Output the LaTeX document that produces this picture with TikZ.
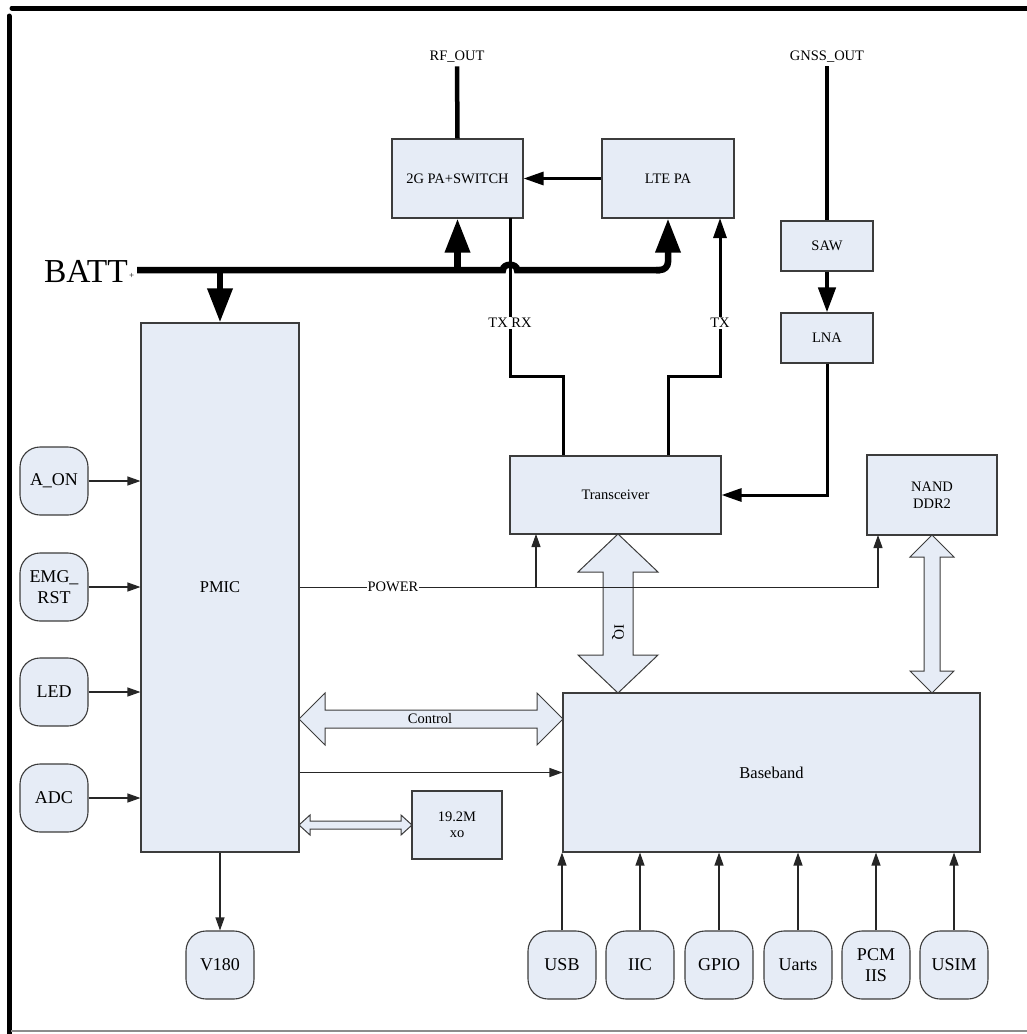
\documentclass[tikz,border=0pt]{standalone}
\usepackage{fontspec}
\setmainfont{Liberation Serif}
\usetikzlibrary{arrows.meta,calc}
\definecolor{boxfill}{RGB}{230,236,246}
\definecolor{boxline}{RGB}{60,60,60}
\newcommand\myHArrow[6]{% x1 x2 y headlen headhalf shafthalf
  \draw[blockarr] (#1,#3) -- (#1+#4,#3-#5) -- (#1+#4,#3-#6) -- (#2-#4,#3-#6) -- (#2-#4,#3-#5) -- (#2,#3)
    -- (#2-#4,#3+#5) -- (#2-#4,#3+#6) -- (#1+#4,#3+#6) -- (#1+#4,#3+#5) -- cycle;}
\newcommand\myVArrow[6]{% x y1 y2 headlen headhalf shafthalf
  \draw[blockarr] (#1,#2) -- (#1+#5,#2+#4) -- (#1+#6,#2+#4) -- (#1+#6,#3-#4) -- (#1+#5,#3-#4) -- (#1,#3)
    -- (#1-#5,#3-#4) -- (#1-#6,#3-#4) -- (#1-#6,#2+#4) -- (#1-#5,#2+#4) -- cycle;}
\begin{document}
\begin{tikzpicture}[x=1pt,y=-1pt,
  every node/.style={font=\fontsize{14.5}{16.5}\selectfont},
  blk/.style={draw=boxline, line width=1.1pt, fill=boxfill, inner sep=0pt, align=center},
  bigtext/.style={font=\fontsize{16.5}{19}\selectfont},
  rblk/.style={blk, rounded corners=20pt, minimum width=68pt, minimum height=68pt,
    font=\fontsize{18}{21.5}\selectfont},
  thinarr/.style={draw=black!85, line width=1.2pt, -{Triangle[length=13pt,width=9pt]}},
  medline/.style={line width=3pt},
  medarr/.style={line width=3pt, -{Triangle[length=20pt,width=13pt]}},
  fatline/.style={line width=4.5pt},
  fatarr/.style={line width=6.5pt, -{Triangle[length=34pt,width=24pt]}},
  sawarr/.style={line width=4.5pt, -{Triangle[length=25pt,width=17pt]}},
  blockarr/.style={draw=boxline, line width=1pt, fill=boxfill, line join=miter},
  lbl/.style={fill=white, inner sep=1.5pt}
]
\useasboundingbox (0,0) rectangle (1027,1034);
% frame
\draw[line width=5pt, line cap=round] (12,8) -- (1027,8);
\draw[line width=5pt, line cap=round] (9,16) -- (9,1034);
\draw[black!45, line width=1.5pt] (11,1031) -- (1027,1031);

% boxes
\node[blk, minimum width=131pt, minimum height=79pt] (sw) at (457.5,178.5) {2G PA+SWITCH};
\node[blk, minimum width=132pt, minimum height=79pt] (lte) at (668,178.5) {LTE PA};
\node[blk, minimum width=92pt, minimum height=50pt] (saw) at (827,246) {SAW};
\node[blk, minimum width=92pt, minimum height=50pt] (lna) at (827,338) {LNA};
\node[blk, minimum width=211pt, minimum height=78pt] (trx) at (615.5,495) {Transceiver};
\node[blk, minimum width=130pt, minimum height=80pt] (nand) at (932,495) {NAND\\DDR2};
\node[blk, bigtext, minimum width=158pt, minimum height=529pt] (pmic) at (220,587.5) {PMIC};
\node[blk, bigtext, minimum width=417pt, minimum height=159pt] (bb) at (771.5,772.5) {Baseband};
\node[blk, minimum width=90pt, minimum height=68pt] (xo) at (457,825) {19.2M\\xo};

\node[rblk] (aon) at (54,481) {A\_ON};
\node[rblk] (emg) at (54,587) {EMG\_\\RST};
\node[rblk] (led) at (54,692) {LED};
\node[rblk] (adc) at (54,798) {ADC};
\node[rblk] (v180) at (220,965) {V180};
\node[rblk] (usb) at (562,965) {USB};
\node[rblk] (iic) at (640,965) {IIC};
\node[rblk] (gpio) at (719,965) {GPIO};
\node[rblk] (uarts) at (798,965) {Uarts};
\node[rblk] (pcm) at (876,965) {PCM\\IIS};
\node[rblk] (usim) at (954,965) {USIM};

% labels
\node (rf) at (457,57) {RF\_OUT};
\node (gnss) at (827,57) {GNSS\_OUT};
\node[font=\fontsize{33.5}{35}\selectfont, anchor=base east, inner sep=0pt] (batt) at (128,282) {BATT};
\node[font=\fontsize{9}{9}\selectfont, inner sep=0pt, anchor=west] (plus) at (129,276) {+};

% coordinates
\coordinate (busL) at (137,270);
\coordinate (swo) at (510,218);
\coordinate (j1) at (563,376);
\coordinate (j2) at (668,376);
\coordinate (ltein) at (720,218);
\coordinate (nandin) at (878,535);
\coordinate (trxin) at (536,534);

% RF chain
\draw[fatline] (rf.south) -- (sw.north);
\draw[fatline] (gnss.south) -- (saw.north);
\draw[sawarr] (saw.south) -- (lna.north);
\draw[medarr] (lna.south) |- (trx.east);
\draw[medarr] (lte.west) -- (sw.east);
\draw[medline] (swo) |- (j1) -- (j1 |- trx.north);
\draw[medarr] (j2 |- trx.north) -- (j2) -| (ltein);
\node[lbl] (trxl) at (510,323) {TX RX};
\node[lbl] (txl) at (720,323) {TX};

% battery bus
\draw[line width=6.5pt] (busL) -- (503,270) .. controls (503,263) and (517,263) .. (517,270) -- (660,270);
\draw[fatarr, rounded corners=8pt] (lte.south |- busL) ++(-12,0) -- (lte.south |- busL) -- (lte.south);
\draw[fatarr] (sw.south |- busL) -- (sw.south);
\draw[fatarr] (pmic.north |- busL) -- (pmic.north);

% block arrows
\myVArrow{618}{534}{693}{38}{40}{15}
\myVArrow{932}{535}{693}{22}{22}{8}
\myHArrow{299}{563}{719}{26}{26}{9}
\myHArrow{299}{412}{825}{11}{10}{4}
\node[rotate=-90] (iq) at (618,632) {IQ};
\node (ctl) at (430,719) {Control};

% power
\draw[thinarr] (pmic.east) -| (nandin);
\draw[thinarr] (pmic.east -| trxin) -- (trxin);
\node[lbl, inner sep=1pt] (pwr) at (393,587) {POWER};
\draw[thinarr] (pmic.east |- bb.west) -- (bb.west);

% left inputs
\foreach \n in {aon,emg,led,adc}
  \draw[thinarr] (\n.east) -- (\n.east -| pmic.west);
\draw[thinarr] (pmic.south) -- (v180.north);
\foreach \n in {usb,iic,gpio,uarts,pcm,usim}
  \draw[thinarr] (\n.north) -- (\n.north |- bb.south);
\end{tikzpicture}
\end{document}
